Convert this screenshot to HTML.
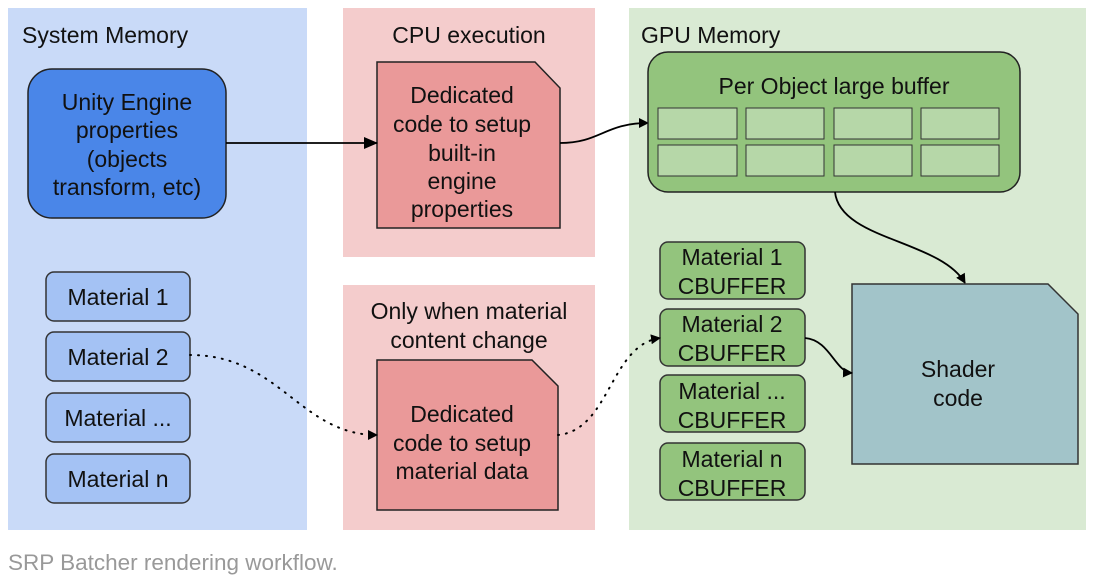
<!DOCTYPE html>
<html><head><style>
body{margin:0;width:1097px;height:583px;background:#fff;overflow:hidden;font-family:"Liberation Sans",sans-serif}
</style></head><body>
<svg width="1097" height="583" xmlns="http://www.w3.org/2000/svg" font-family="Liberation Sans, sans-serif">
<defs>
<marker id="a" markerWidth="10" markerHeight="10" refX="9" refY="5" orient="auto" markerUnits="userSpaceOnUse"><path d="M0,0 L10,5 L0,10 z" fill="#000"/></marker>
<marker id="b" markerWidth="14" markerHeight="12" refX="13" refY="6" orient="auto" markerUnits="userSpaceOnUse"><path d="M0,0 L14,6 L0,12 z" fill="#000"/></marker>
</defs>
<rect x="8" y="8" width="299" height="522" fill="#c9daf8"/>
<rect x="343" y="8" width="252" height="249" fill="#f4cccc"/>
<rect x="343" y="285" width="252" height="245" fill="#f4cccc"/>
<rect x="629" y="8" width="457" height="522" fill="#d9ead3"/>
<g font-size="23" fill="#111">
<text x="22" y="43">System Memory</text>
<text x="469" y="43" text-anchor="middle">CPU execution</text>
<text x="641" y="43">GPU Memory</text>
<text x="469" y="319" text-anchor="middle">Only when material</text>
<text x="469" y="348" text-anchor="middle">content change</text>
</g>
<rect x="28" y="69" width="198" height="149" rx="24" fill="#4a86e8" stroke="#222" stroke-width="1.5"/>
<g font-size="23" fill="#111" text-anchor="middle">
<text x="127" y="110">Unity Engine</text><text x="127" y="138">properties</text><text x="127" y="167">(objects</text><text x="127" y="195">transform, etc)</text>
</g>
<path d="M377,62 H535 L560,88 V228 H377 Z" fill="#ea9999" stroke="#222" stroke-width="1.5"/>
<g font-size="23" fill="#111" text-anchor="middle">
<text x="462" y="103">Dedicated</text><text x="462" y="132">code to setup</text><text x="462" y="161">built-in</text><text x="462" y="189">engine</text><text x="462" y="217">properties</text>
</g>
<path d="M377,360 H532 L558,386 V510 H377 Z" fill="#ea9999" stroke="#222" stroke-width="1.5"/>
<g font-size="23" fill="#111" text-anchor="middle">
<text x="462" y="422">Dedicated</text><text x="462" y="451">code to setup</text><text x="462" y="479">material data</text>
</g>
<line x1="226" y1="143" x2="377" y2="143" stroke="#000" stroke-width="1.8" marker-end="url(#b)"/>
<path d="M560,143 C600,143 605,123 648,123" fill="none" stroke="#000" stroke-width="1.8" marker-end="url(#a)"/>
<rect x="648" y="52" width="372" height="140" rx="20" fill="#93c47d" stroke="#222" stroke-width="1.5"/>
<text x="834" y="94" font-size="23" fill="#111" text-anchor="middle">Per Object large buffer</text>
<g fill="#b6d7a8" stroke="#333" stroke-width="1">
<rect x="658" y="108" width="79" height="31"/><rect x="746" y="108" width="78" height="31"/><rect x="834" y="108" width="78" height="31"/><rect x="921" y="108" width="78" height="31"/>
<rect x="658" y="145" width="79" height="31"/><rect x="746" y="145" width="78" height="31"/><rect x="834" y="145" width="78" height="31"/><rect x="921" y="145" width="78" height="31"/>
</g>
<path d="M835,192 C840,240 940,240 965,283" fill="none" stroke="#000" stroke-width="1.8" marker-end="url(#a)"/>
<path d="M852,284 H1048 L1078,314 V464 H852 Z" fill="#a2c4c9" stroke="#333" stroke-width="1.5"/>
<g font-size="23" fill="#111" text-anchor="middle"><text x="958" y="377">Shader</text><text x="958" y="406">code</text></g>
<g fill="#93c47d" stroke="#333" stroke-width="1.5">
<rect x="660" y="242" width="145" height="57" rx="8"/><rect x="660" y="309" width="145" height="57" rx="8"/><rect x="660" y="375" width="145" height="57" rx="8"/><rect x="660" y="443" width="145" height="57" rx="8"/>
</g>
<g font-size="23" fill="#111" text-anchor="middle">
<text x="732" y="265">Material 1</text><text x="732" y="294">CBUFFER</text>
<text x="732" y="332">Material 2</text><text x="732" y="361">CBUFFER</text>
<text x="732" y="399">Material ...</text><text x="732" y="428">CBUFFER</text>
<text x="732" y="467">Material n</text><text x="732" y="496">CBUFFER</text>
</g>
<path d="M805,338 C830,340 835,372 852,373" fill="none" stroke="#000" stroke-width="1.8" marker-end="url(#a)"/>
<g fill="#a4c2f4" stroke="#333" stroke-width="1.5">
<rect x="46" y="272" width="144" height="49" rx="8"/><rect x="46" y="332" width="144" height="49" rx="8"/><rect x="46" y="393" width="144" height="49" rx="8"/><rect x="46" y="454" width="144" height="49" rx="8"/>
</g>
<g font-size="23" fill="#111" text-anchor="middle">
<text x="118" y="305">Material 1</text><text x="118" y="365">Material 2</text><text x="118" y="426">Material ...</text><text x="118" y="487">Material n</text>
</g>
<path d="M190,355 C280,355 300,435 377,435" fill="none" stroke="#000" stroke-width="2" stroke-dasharray="1,7" stroke-linecap="round" marker-end="url(#a)"/>
<path d="M558,435 C610,430 610,345 660,338" fill="none" stroke="#000" stroke-width="2" stroke-dasharray="1,7" stroke-linecap="round" marker-end="url(#a)"/>
<text x="8" y="570" font-size="22.5" fill="#999">SRP Batcher rendering workflow.</text>
</svg>
</body></html>
